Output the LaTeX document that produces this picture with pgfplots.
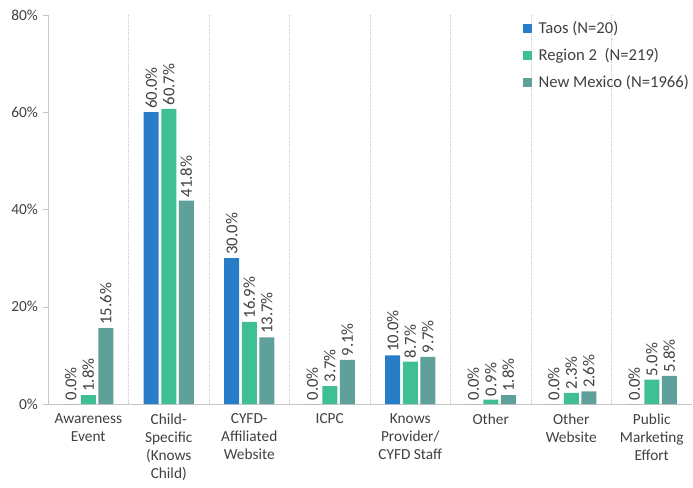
\documentclass[border=0pt]{standalone}
\usepackage{pgfplots}
\pgfplotsset{compat=1.18}
\usepackage{fontspec}
\setmainfont{Carlito}
\usetikzlibrary{calc}
\definecolor{taos}{RGB}{40,125,200}
\definecolor{regtwo}{RGB}{64,190,148}
\definecolor{nmex}{RGB}{95,160,155}
\definecolor{txt}{RGB}{64,64,64}
\begin{document}
\begin{tikzpicture}
\begin{axis}[
    scale only axis,
    width=483pt, height=291.75pt,
    ybar=1.9pt, bar width=11.25pt,
    xmin=-0.5, xmax=7.5, ymin=0, ymax=80,
    xtick={0,...,7},
    xticklabels={{Awareness\\Event},{Child-\\Specific\\(Knows\\Child)},{CYFD-\\Affiliated\\Website},{ICPC},{Knows\\Provider/\\CYFD Staff},{Other},{Other\\Website},{Public\\Marketing\\Effort}},
    xticklabel style={align=center, font=\fontsize{11.5}{13.5}\selectfont, text=txt},
    x tick style={draw=none},
    minor xtick={0.5,1.5,...,6.5},
    xminorgrids,
    minor grid style={gray!40, densely dotted},
    ytick={0,20,40,60,80},
    yticklabels={0\%,20\%,40\%,60\%,80\%},
    yticklabel style={font=\fontsize{11.5}{13.5}\selectfont, text=txt},
    y tick style={gray!45},
    tick align=outside, major tick length=4pt,
    axis x line*=bottom, axis y line*=left,
    axis line style={-, gray!45},
    /pgf/number format/assume math mode=true,
    nodes near coords={\pgfmathprintnumber[fixed,fixed zerofill,precision=1]{\pgfplotspointmeta}\%},
    every node near coord/.append style={rotate=90, anchor=west, font=\fontsize{12.5}{14}\selectfont, text=txt, inner sep=2.5pt},
    legend style={draw=none, fill=none, at={(1.006,0.998)}, anchor=north east,
        font=\fontsize{12.5}{14}\selectfont, text=txt, row sep=5.5pt,
        /tikz/every odd column/.append style={column sep=3pt}},
    legend cell align=left,
    legend image code/.code={\fill[#1] (0pt,-3.4pt) rectangle (6.8pt,3.4pt);},
]
\addplot[fill=taos, draw=none] coordinates {
    (0,0.0) (1,60.0) (2,30.0) (3,0.0) (4,10.0) (5,0.0) (6,0.0) (7,0.0)
};
\addplot[fill=regtwo, draw=none] coordinates {
    (0,1.8) (1,60.7) (2,16.9) (3,3.7) (4,8.7) (5,0.9) (6,2.3) (7,5.0)
};
\addplot[fill=nmex, draw=none] coordinates {
    (0,15.6) (1,41.8) (2,13.7) (3,9.1) (4,9.7) (5,1.8) (6,2.6) (7,5.8)
};
\legend{Taos (N=20), Region 2\ \ (N=219), New Mexico (N=1966)}
\end{axis}
\pgfresetboundingbox
\path ($(current axis.south west)+(-36pt,-62.25pt)$) rectangle ($(current axis.north east)+(0.75pt,11.25pt)$);
\end{tikzpicture}
\end{document}
